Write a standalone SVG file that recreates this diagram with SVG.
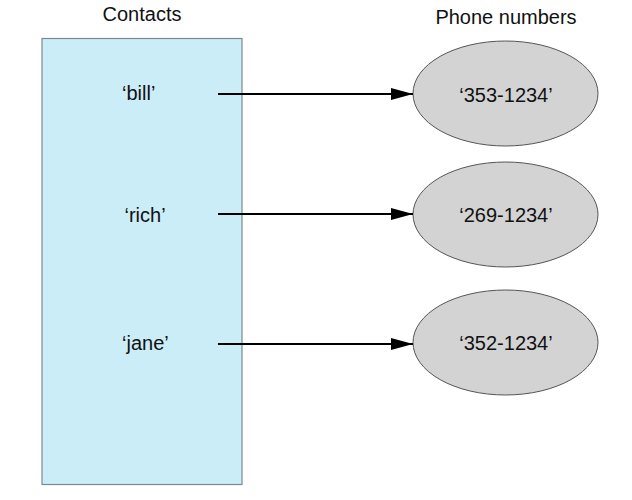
<svg xmlns="http://www.w3.org/2000/svg" width="632" height="500" viewBox="0 0 632 500">
<defs>
<style>
text{font-family:"Liberation Sans",Arial,Helvetica,sans-serif;font-size:20px;fill:#111}
.num{text-anchor:middle}
.ell{fill:#d3d3d3;stroke:#555;stroke-width:1}
.conn line{stroke:#000;stroke-width:2}
</style>
<marker id="ah" markerUnits="userSpaceOnUse" markerWidth="24" markerHeight="12" refX="22" refY="6" orient="auto">
<path d="M0,0 L22,6 L0,12 Z" fill="#000"/>
</marker>
</defs>
<rect width="632" height="500" fill="#fff"/>
<text x="142" y="21" text-anchor="middle">Contacts</text>
<text x="506" y="24" text-anchor="middle">Phone numbers</text>
<g id="contacts">
<rect x="42" y="38.5" width="200" height="446" fill="#cbedf8" stroke="#7a8a90" stroke-width="1.2"/>
<text x="122" y="100">‘bill’</text>
<text x="124.5" y="222">‘rich’</text>
<text x="122" y="350">‘jane’</text>
</g>
<g id="phone1"><ellipse class="ell" cx="505.5" cy="93.5" rx="92.5" ry="52.5"/><text class="num" x="506" y="101.5">‘353-1234’</text></g>
<g id="phone2"><ellipse class="ell" cx="505.5" cy="214.5" rx="92.5" ry="52.5"/><text class="num" x="506" y="222">‘269-1234’</text></g>
<g id="phone3"><ellipse class="ell" cx="505.5" cy="342.5" rx="92.5" ry="52.5"/><text class="num" x="506" y="350">‘352-1234’</text></g>
<g class="conn" id="connectors">
<line x1="218" y1="94" x2="413" y2="94" marker-end="url(#ah)"/>
<line x1="218" y1="214" x2="413" y2="214" marker-end="url(#ah)"/>
<line x1="218" y1="344" x2="413" y2="344" marker-end="url(#ah)"/>
</g>
</svg>
